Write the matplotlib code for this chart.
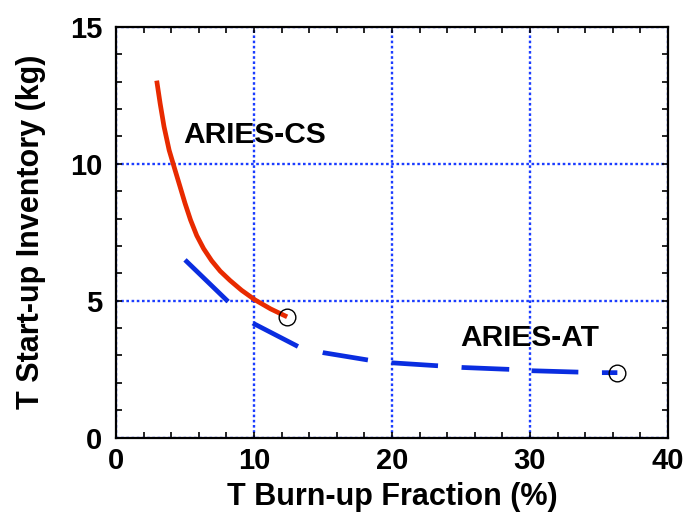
import matplotlib
matplotlib.use("Agg")
import matplotlib.pyplot as plt
from matplotlib.ticker import MultipleLocator

plt.rcParams["font.family"] = ["Liberation Sans", "DejaVu Sans"]
plt.rcParams["font.weight"] = "bold"

# ARIES-CS: T start-up inventory vs burn-up fraction
cs_burnup = [2.95, 3.2, 3.48, 3.85, 4.28, 4.65, 5.0, 5.4, 5.85, 6.35, 6.93, 7.55,
             8.26, 9.1, 10.07, 11.2, 12.4]
cs_inventory = [13.04, 12.2, 11.36, 10.5, 9.77, 9.15, 8.56, 7.95, 7.38, 6.90, 6.46, 6.08,
                5.74, 5.38, 5.03, 4.70, 4.41]

# ARIES-AT
at_burnup = [5.0, 8.14, 9.95, 13.21, 15.02, 18.28, 19.98, 23.36, 25.05, 28.5, 30.12, 33.5, 35.2, 36.33]
at_inventory = [6.49, 4.96, 4.17, 3.32, 3.10, 2.83, 2.73, 2.62, 2.56, 2.49, 2.44, 2.39, 2.37, 2.37]

# design points (open circles at curve ends)
design_burnup = [12.4, 36.33]
design_inventory = [4.41, 2.37]

RED = "#e82a00"
BLUE = "#0a2de0"
GRID_BLUE = "#1a3cff"

# dash pattern of the ARIES-AT line, in units of line width
AT_DASHES = (12.7, 7.0, 10.7, 5.4, 9.7, 5.0, 9.9, 5.0, 10.1, 4.75, 9.9, 5.0, 12.0, 5.0)

fig = plt.figure(figsize=(6.84, 5.16), dpi=100)
ax = fig.add_axes([0.1696, 0.1521, 0.807, 0.7956])

ax.plot(cs_burnup, cs_inventory, color=RED, lw=3.4, solid_capstyle="butt",
        solid_joinstyle="round", zorder=3)
ax.plot(at_burnup, at_inventory, color=BLUE, lw=3.4, dash_capstyle="butt", zorder=3,
        ls=(0, AT_DASHES))
ax.plot(design_burnup, design_inventory, ls="none", marker="o", ms=12,
        mfc="none", mec="black", mew=1.0, zorder=4)

ax.text(4.88, 10.75, "ARIES-CS", fontsize=21.5, fontweight="bold", ha="left", va="baseline")
ax.text(24.93, 3.34, "ARIES-AT", fontsize=21.5, fontweight="bold", ha="left", va="baseline")

ax.set_xlim(0, 40)
ax.set_ylim(0, 15)
ax.xaxis.set_major_locator(MultipleLocator(10))
ax.xaxis.set_minor_locator(MultipleLocator(2))
ax.yaxis.set_major_locator(MultipleLocator(5))
ax.yaxis.set_minor_locator(MultipleLocator(1))
ax.tick_params(which="both", direction="in", top=True, right=True, width=1.2,
               labelsize=21, length=4)
ax.tick_params(axis="x", pad=7)
ax.tick_params(axis="y", pad=10)
for lab in ax.get_xticklabels() + ax.get_yticklabels():
    lab.set_fontweight("bold")

ax.grid(True, which="major", color=GRID_BLUE, lw=1.7, ls=(0, (1.1, 1.1)))
for sp in ax.spines.values():
    sp.set_linewidth(1.6)

ax.set_xlabel("T Burn-up Fraction (%)", fontsize=22, fontweight="bold", labelpad=5)
ax.set_ylabel("T Start-up Inventory (kg)", fontsize=22, fontweight="bold", labelpad=17)

fig.savefig("out.png", dpi=100)
